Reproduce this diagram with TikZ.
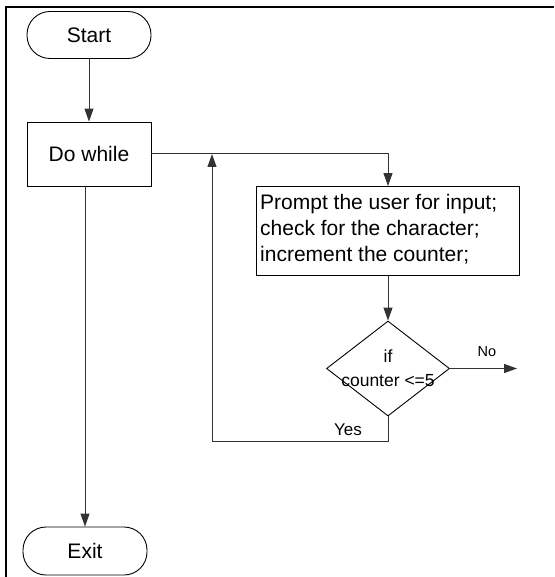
\documentclass[tikz,border=0pt]{standalone}
\usepackage{fontspec}
\setmainfont{Liberation Sans}
\usetikzlibrary{arrows.meta,shapes.geometric}
\begin{document}
\begin{tikzpicture}[x=1pt,y=-1pt,
  shapeline/.style={draw=black,line width=0.9pt},
  term/.style={shapeline,rectangle,rounded corners=23pt,minimum width=124pt,minimum height=47pt,inner sep=0pt,font=\fontsize{21}{25}\selectfont},
  procbox/.style={shapeline,rectangle,minimum width=124pt,minimum height=64pt,inner sep=0pt,font=\fontsize{21}{25}\selectfont},
  conn/.style={draw=black!80,line width=1pt},
  arr/.style={conn,-{Triangle[length=13pt,width=9pt]}},
  lbl/.style={inner sep=0pt,font=\fontsize{17}{20}\selectfont}]
\useasboundingbox (0,0) rectangle (554,577);
\fill[white] (0,0) rectangle (554,577);
% frame
\draw[line width=2pt] (5.5,577) -- (5.5,7.5) -- (554,7.5);
% nodes
\node[term] (start) at (89,35) {Start};
\node[procbox] (dowhile) at (89,154) {Do while};
\node[shapeline,rectangle,minimum width=263pt,minimum height=89pt,inner sep=0pt] (prompt) at (388,231) {};
\node[anchor=north west,inner sep=0pt,align=left,font=\fontsize{21}{26}\selectfont] (prompttext) at (260,194) {Prompt the user for input;\\check for the character;\\increment the counter;};
\node[shapeline,diamond,minimum width=123pt,minimum height=95pt,inner sep=0pt] (dec) at (388,368.5) {};
\node[align=center,inner sep=0pt,font=\fontsize{17.5}{24}\selectfont] (dectext) at (388,368) {if\\counter <=5};
\node[term,minimum height=48pt] (exit) at (85,551) {Exit};
\coordinate (noend) at (517,368.5);
\coordinate (yesdown) at (388,441);
\coordinate (yesleft) at (212,441);
\coordinate (loopin) at (212,154);
\node[lbl,font=\fontsize{14.5}{17}\selectfont] (nolbl) at (487,352) {No};
\node[lbl] (yeslbl) at (348,430) {Yes};
% connectors
\draw[arr] (start.south) -- (dowhile.north);
\draw[arr] (dowhile.east) -| (prompt.north);
\draw[arr] (prompt.south) -- (dec.north);
\draw[arr] (dec.east) -- (noend);
\draw[conn] (dec.south) -- (yesdown) -- (yesleft);
\draw[arr] (yesleft) -- (loopin);
\draw[arr] (exit.north |- dowhile.south) -- (exit.north);
\end{tikzpicture}
\end{document}
